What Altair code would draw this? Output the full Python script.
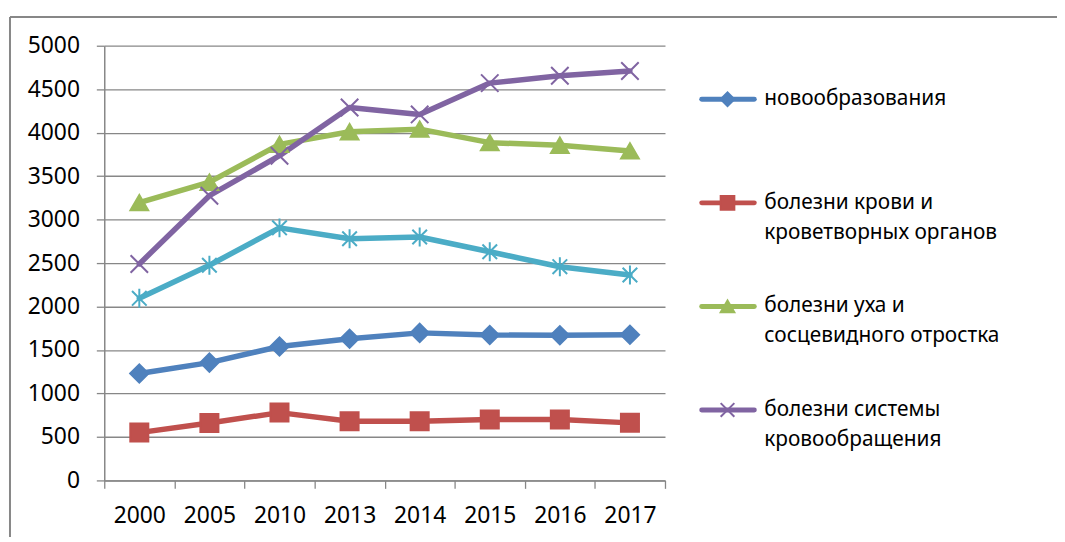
import altair as alt
import pandas as pd

years = ["2000", "2005", "2010", "2013", "2014", "2015", "2016", "2017"]

series_names = [
    "новообразования",
    "болезни крови и кроветворных органов",
    "болезни уха и сосцевидного отростка",
    "болезни системы кровообращения",
    "ряд 5",
]

neoplasms = [1230, 1355, 1540, 1630, 1697, 1672, 1670, 1675]
blood = [550, 660, 780, 680, 680, 700, 700, 662]
ear = [3195, 3430, 3865, 4010, 4040, 3885, 3855, 3790]
circulation = [2490, 3275, 3735, 4290, 4210, 4570, 4655, 4710]
series5 = [2095, 2475, 2905, 2780, 2800, 2630, 2458, 2363]

legend_names = series_names[:4]
legend_line1 = ["новообразования", "болезни крови и", "болезни уха и", "болезни системы"]
legend_line2 = ["", "кроветворных органов", "сосцевидного отростка", "кровообращения"]

y_ticks = [0, 500, 1000, 1500, 2000, 2500, 3000, 3500, 4000, 4500, 5000]

# styles
colors = ["#4F81BD", "#C0504D", "#9BBB59", "#8064A2", "#4BACC6"]
shapes = [
    "diamond",
    "square",
    "triangle-up",
    "M-1,-1L1,1M-1,1L1,-1",
    "M-0.85,-0.85L0.85,0.85M-0.85,0.85L0.85,-0.85M0,-1.1L0,1.1",
]
sizes = [340, 300, 380, 340, 360]
grey = "#878787"
FONT = "Noto Sans"

rows = []
for name, vals in zip(series_names, [neoplasms, blood, ear, circulation, series5]):
    for yr, v in zip(years, vals):
        rows.append({"year": yr, "series": name, "value": v})
df = pd.DataFrame(rows)

leg = pd.DataFrame({"series": legend_names, "line1": legend_line1, "line2": legend_line2})

color_scale = alt.Scale(domain=series_names, range=colors)
shape_scale = alt.Scale(domain=series_names, range=shapes)

x_enc = alt.X(
    "year:O",
    sort=years,
    scale=alt.Scale(type="band", domain=years, paddingInner=0, paddingOuter=0),
    axis=alt.Axis(
        title=None, labelAngle=0, tickBand="extent", tickSize=8, tickColor=grey,
        tickWidth=1.3, domainColor=grey, domainWidth=1.5, labelFont=FONT,
        labelFontSize=23, labelColor="black", labelPadding=16, grid=False,
    ),
)
y_enc = alt.Y(
    "value:Q",
    scale=alt.Scale(domain=[0, 5000], nice=False),
    axis=alt.Axis(
        title=None, values=y_ticks, format="d", tickSize=8, tickColor=grey, tickWidth=1.3,
        domainColor=grey, domainWidth=1.5, grid=True, gridColor=grey,
        gridWidth=1.3, labelFont=FONT, labelFontSize=23, labelColor="black",
        labelPadding=17,
    ),
)

base = alt.Chart(df).encode(x=x_enc, y=y_enc)

lines = base.mark_line(strokeWidth=5.5, strokeCap="round", strokeJoin="round").encode(
    color=alt.Color("series:N", scale=color_scale, legend=None),
    detail="series:N",
)
points = base.mark_point(filled=True, opacity=1, strokeWidth=2).encode(
    shape=alt.Shape("series:N", scale=shape_scale, legend=None),
    fill=alt.Fill("series:N", scale=color_scale, legend=None),
    stroke=alt.Stroke("series:N", scale=color_scale, legend=None),
    size=alt.Size("series:N", scale=alt.Scale(domain=series_names, range=sizes), legend=None),
)
main = alt.layer(lines, points)

leg_y = alt.Y(
    "series:N",
    scale=alt.Scale(type="point", domain=legend_names, range=[54, 367], padding=0),
    axis=None,
)
leg_base = alt.Chart(leg).encode(y=leg_y)
leg_rule = leg_base.mark_rule(strokeWidth=5, strokeCap="round").encode(
    x=alt.value(602), x2=alt.value(655),
    color=alt.Color("series:N", scale=color_scale, legend=None),
)
leg_pt = leg_base.mark_point(filled=True, opacity=1, strokeWidth=2).encode(
    x=alt.value(628),
    shape=alt.Shape("series:N", scale=shape_scale, legend=None),
    fill=alt.Fill("series:N", scale=color_scale, legend=None),
    stroke=alt.Stroke("series:N", scale=color_scale, legend=None),
    size=alt.value(190),
)
leg_t1 = leg_base.mark_text(align="left", baseline="middle", font=FONT, fontSize=21, color="black").encode(
    x=alt.value(665), text="line1:N"
)
leg_t2 = leg_base.mark_text(align="left", baseline="middle", font=FONT, fontSize=21, color="black", dy=30).encode(
    x=alt.value(665), text="line2:N"
)

frame_df = pd.DataFrame({"k": [0]})
frame_top = alt.Chart(frame_df).mark_rule(color=grey, strokeWidth=2).encode(
    x=alt.value(-95), x2=alt.value(1200), y=alt.value(-29)
)
frame_left = alt.Chart(frame_df).mark_rule(color=grey, strokeWidth=2).encode(
    x=alt.value(-95), y=alt.value(-29), y2=alt.value(700)
)

legend = alt.layer(leg_rule, leg_pt, leg_t1, leg_t2, frame_top, frame_left)

chart = (
    alt.layer(main, legend)
    .resolve_scale(y="independent")
    .properties(
        width=565,
        height=438,
        autosize=alt.AutoSizeParams(type="none"),
        padding={"left": 97, "top": 36, "right": 395, "bottom": 55},
        background="white",
    )
    .configure_view(stroke=None)
)

chart.save("out.html", embed_options={"renderer": "svg", "actions": False})
